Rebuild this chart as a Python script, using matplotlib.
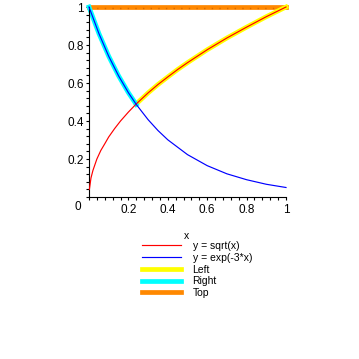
import matplotlib
matplotlib.use("Agg")
import matplotlib.pyplot as plt
from matplotlib.ticker import MultipleLocator

plt.rcParams['font.family'] = ['Liberation Sans', 'DejaVu Sans']

# y = sqrt(x)
sqrt_x = [0.002, 0.01, 0.02, 0.04, 0.06, 0.08, 0.10, 0.13, 0.16, 0.20, 0.24,
          0.30, 0.35, 0.40, 0.45, 0.50, 0.60, 0.70, 0.80, 0.90, 1.00]
sqrt_y = [0.04, 0.10, 0.14, 0.20, 0.245, 0.28, 0.316, 0.36, 0.40, 0.447, 0.49,
          0.548, 0.592, 0.632, 0.671, 0.707, 0.775, 0.837, 0.894, 0.949, 1.00]

# y = exp(-3*x)
exp_x = [0.0, 0.05, 0.10, 0.15, 0.20, 0.24, 0.30, 0.35, 0.40, 0.50,
         0.60, 0.70, 0.80, 0.90, 1.00]
exp_y = [1.0, 0.861, 0.741, 0.638, 0.549, 0.487, 0.407, 0.350, 0.301, 0.223,
         0.165, 0.122, 0.091, 0.067, 0.050]

# highlighted pieces
left_x = sqrt_x[10:]
left_y = sqrt_y[10:]
right_x = exp_x[:6]
right_y = exp_y[:6]
top_x = [0.0, 1.0]
top_y = [1.0, 1.0]

labels = ["y = sqrt(x)", "y = exp(-3*x)", "Left", "Right", "Top"]

fig = plt.figure(figsize=(3.59, 3.59), dpi=100)
ax = fig.add_axes([89/359, 162/359, 197/359, 190/359])

l_top, = ax.plot(top_x, top_y, color="#ff8800", lw=3.4, clip_on=False, zorder=1)
ax.plot(top_x, [0.997, 0.997], color="#d86a00", lw=1.0, ls=(0, (1, 4.5)),
        clip_on=False, zorder=1.5)
l_left, = ax.plot(left_x, left_y, color="#ffff00", lw=3.4, clip_on=False, zorder=2)
l_right, = ax.plot(right_x, right_y, color="#00ffff", lw=3.4, clip_on=False, zorder=2)
l_sqrt, = ax.plot(sqrt_x, sqrt_y, color="#ff0000", lw=0.85,
                  clip_on=False, zorder=3)
l_exp, = ax.plot(exp_x, exp_y, color="#0000ff", lw=0.85,
                 clip_on=False, zorder=3)

ax.set_xlim(0, 1)
ax.set_ylim(0, 1)
for s in ["top", "right"]:
    ax.spines[s].set_visible(False)
for s in ["left", "bottom"]:
    ax.spines[s].set_linewidth(0.8)

ax.set_xticks([0.2, 0.4, 0.6, 0.8, 1.0])
ax.set_xticklabels(["0.2", "0.4", "0.6", "0.8", "1"])
ax.set_yticks([0.2, 0.4, 0.6, 0.8, 1.0])
ax.set_yticklabels(["0.2", "0.4", "0.6", "0.8", "1"])
ax.xaxis.set_minor_locator(MultipleLocator(0.04))
ax.yaxis.set_minor_locator(MultipleLocator(0.04))
ax.tick_params(which="both", direction="out", length=2.3, width=0.8,
               labelsize=8.5, pad=1.5)
ax.tick_params(axis="x", pad=3)
ax.text(-0.04, -0.055, "0", transform=ax.transAxes, ha="right", va="center",
        fontsize=8.5)

fig.text(187/359, 1 - 236/359, "x", ha="center", va="center", fontsize=7.5)

handles = [l_sqrt, l_exp, l_left, l_right, l_top]
leg = fig.legend(handles, labels, loc="upper left",
                 bbox_to_anchor=(142/359, 1 - 241/359), frameon=False,
                 fontsize=7.5, handlelength=3.7, handletextpad=1.15,
                 labelspacing=0.17, borderaxespad=0, borderpad=0)

fig.savefig("out.png", dpi=100)
